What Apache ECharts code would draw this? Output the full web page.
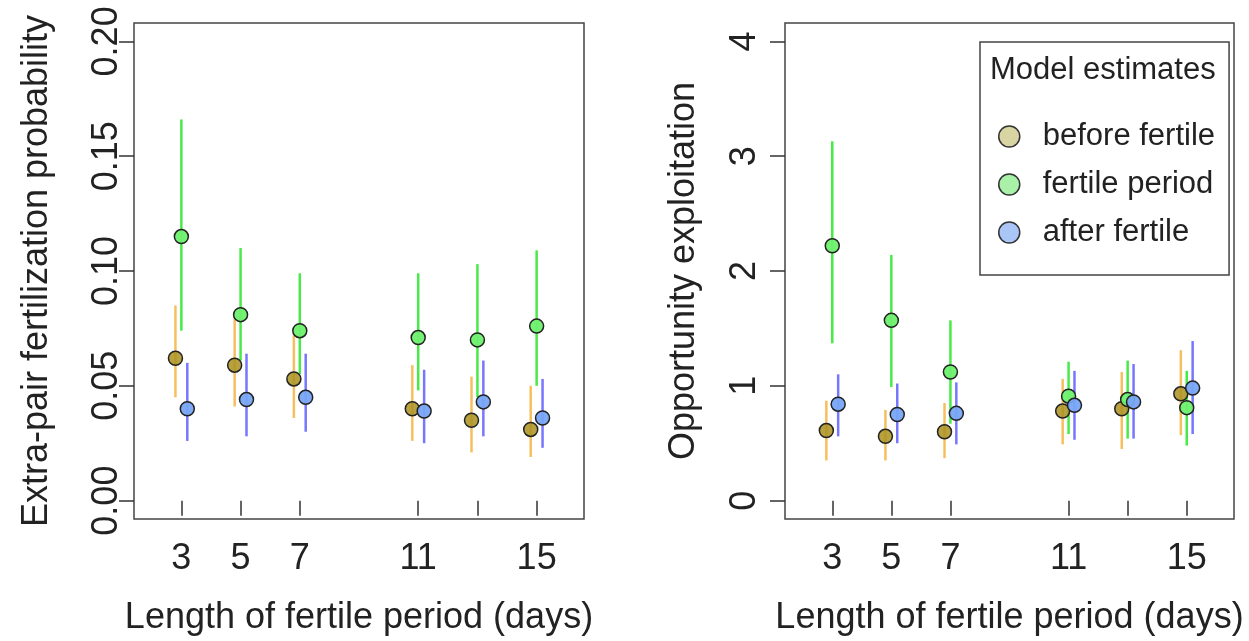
<!DOCTYPE html>
<html>
<head>
<meta charset="utf-8">
<script src="https://cdn.jsdelivr.net/npm/echarts@6.0.0/dist/echarts.min.js"></script>
<style>
  html, body { margin: 0; padding: 0; background: #fff; }
  #main { width: 1249px; height: 641px; }
</style>
</head>
<body>
<div id="main"></div>
<script>
// length of fertile period (days)
const days = [3, 5, 7, 11, 13, 15];
const dayTicks = [3, 5, 7, 11, 13, 15];
const dayLabels = [3, 5, 7, 11, 15];
const groupNames = ['before fertile', 'fertile period', 'after fertile'];

// extra-pair fertilization probability (left)
const eppBefore = [0.062, 0.059, 0.053, 0.040, 0.035, 0.031];
const eppBeforeLo = [0.045, 0.041, 0.036, 0.026, 0.021, 0.019];
const eppBeforeHi = [0.085, 0.079, 0.072, 0.059, 0.054, 0.050];
const eppFertile = [0.115, 0.081, 0.074, 0.071, 0.070, 0.076];
const eppFertileLo = [0.074, 0.061, 0.055, 0.048, 0.045, 0.050];
const eppFertileHi = [0.166, 0.110, 0.099, 0.099, 0.103, 0.109];
const eppAfter = [0.040, 0.044, 0.045, 0.039, 0.043, 0.036];
const eppAfterLo = [0.026, 0.028, 0.030, 0.025, 0.028, 0.023];
const eppAfterHi = [0.060, 0.064, 0.064, 0.057, 0.061, 0.053];
const eppTicks = [0, 0.05, 0.10, 0.15, 0.20];

// opportunity exploitation (right)
const oeBefore = [0.61, 0.56, 0.60, 0.78, 0.80, 0.93];
const oeBeforeLo = [0.35, 0.35, 0.37, 0.49, 0.45, 0.57];
const oeBeforeHi = [0.87, 0.79, 0.85, 1.06, 1.12, 1.31];
const oeFertile = [2.22, 1.57, 1.12, 0.91, 0.88, 0.81];
const oeFertileLo = [1.37, 0.99, 0.67, 0.58, 0.54, 0.48];
const oeFertileHi = [3.13, 2.14, 1.57, 1.21, 1.22, 1.13];
const oeAfter = [0.84, 0.75, 0.76, 0.83, 0.86, 0.98];
const oeAfterLo = [0.56, 0.50, 0.49, 0.53, 0.54, 0.58];
const oeAfterHi = [1.10, 1.02, 1.03, 1.13, 1.19, 1.39];
const oeTicks = [0, 1, 2, 3, 4];

const dodge = [-0.2, 0, 0.2];
const barColors = ['rgba(243,170,40,0.75)', 'rgba(40,230,40,0.85)', 'rgba(60,60,255,0.7)'];
const dotColors = ['rgba(170,145,30,0.85)', 'rgba(110,240,110,0.95)', 'rgba(120,165,245,0.95)'];
const legendColors = ['#d9d5a3', '#a9f1a9', '#a9c6f7'];
const font = 'Liberation Sans, Arial, sans-serif';

const chart = echarts.init(document.getElementById('main'));

function errorBars(gi, k, lo, hi) {
  return {
    type: 'custom',
    name: groupNames[k] + ' ci',
    xAxisIndex: gi,
    yAxisIndex: gi,
    z: 1,
    encode: { x: 0, y: [1, 2] },
    data: days.map((d, i) => [d + dodge[k], lo[i], hi[i]]),
    renderItem: function (params, api) {
      const p1 = api.coord([api.value(0), api.value(1)]);
      const p2 = api.coord([api.value(0), api.value(2)]);
      return {
        type: 'line',
        shape: { x1: p1[0], y1: p1[1], x2: p2[0], y2: p2[1] },
        style: { stroke: barColors[k], lineWidth: 2.5 }
      };
    }
  };
}

function dots(gi, k, est) {
  return {
    type: 'scatter',
    name: groupNames[k],
    xAxisIndex: gi,
    yAxisIndex: gi,
    z: 2,
    symbol: 'circle',
    symbolSize: 14,
    itemStyle: { color: dotColors[k], borderColor: '#222', borderWidth: 1.5, opacity: 1 },
    emphasis: { disabled: true },
    data: days.map((d, i) => [d + dodge[k], est[i]])
  };
}

function xAxis(gi) {
  return {
    type: 'value',
    gridIndex: gi,
    min: 1.4,
    max: 16.6,
    name: 'Length of fertile period (days)',
    nameLocation: 'middle',
    nameGap: 81,
    nameTextStyle: { fontSize: 36, color: '#222', fontFamily: font },
    axisLine: { show: false },
    axisTick: { show: true, customValues: dayTicks, length: 15, lineStyle: { color: '#333', width: 1.5 } },
    axisLabel: { customValues: dayLabels, fontSize: 36, color: '#222', fontFamily: font, margin: 22 },
    splitLine: { show: false }
  };
}

function yAxis(gi, name, min, max, ticks, fmt, labelMargin, nameGap) {
  return {
    type: 'value',
    gridIndex: gi,
    min: min,
    max: max,
    name: name,
    nameLocation: 'middle',
    nameGap: nameGap,
    nameTextStyle: { fontSize: 36, color: '#222', fontFamily: font },
    axisLine: { show: false },
    axisTick: { show: true, customValues: ticks, length: 15, lineStyle: { color: '#333', width: 1.5 } },
    axisLabel: { customValues: ticks, rotate: 90, formatter: fmt, fontSize: 36, color: '#222', fontFamily: font, margin: labelMargin },
    splitLine: { show: false }
  };
}

const option = {
  backgroundColor: '#fff',
  animation: false,
  title: {
    text: 'Model estimates',
    left: 990,
    top: 55,
    padding: 0,
    textStyle: { fontSize: 31, fontWeight: 'normal', color: '#222', fontFamily: font }
  },
  legend: {
    orient: 'vertical',
    left: 980,
    top: 42,
    padding: [79, 14, 27, 18],
    itemWidth: 57,
    itemHeight: 21,
    itemGap: 17,
    icon: 'circle',
    borderColor: '#444',
    borderWidth: 1.5,
    backgroundColor: '#fff',
    selectedMode: false,
    textStyle: { fontSize: 31, color: '#222', fontFamily: font },
    data: groupNames.map((n, k) => ({
      name: n,
      itemStyle: { color: legendColors[k], borderColor: '#333', borderWidth: 1.5 }
    }))
  },
  grid: [
    { left: 134, right: 665, top: 23, bottom: 119, show: true, borderColor: '#444', borderWidth: 1.5, backgroundColor: 'transparent' },
    { left: 785, right: 15, top: 23, bottom: 119, show: true, borderColor: '#444', borderWidth: 1.5, backgroundColor: 'transparent' }
  ],
  xAxis: [xAxis(0), xAxis(1)],
  yAxis: [
    yAxis(0, 'Extra-pair fertilization probability', -0.008, 0.208, eppTicks, v => v.toFixed(2), 9, 79),
    yAxis(1, 'Opportunity exploitation', -0.16, 4.16, oeTicks, v => String(Math.round(v)), 22, 83)
  ],
  series: [
    errorBars(0, 0, eppBeforeLo, eppBeforeHi),
    errorBars(0, 1, eppFertileLo, eppFertileHi),
    errorBars(0, 2, eppAfterLo, eppAfterHi),
    dots(0, 0, eppBefore),
    dots(0, 1, eppFertile),
    dots(0, 2, eppAfter),
    errorBars(1, 0, oeBeforeLo, oeBeforeHi),
    errorBars(1, 1, oeFertileLo, oeFertileHi),
    errorBars(1, 2, oeAfterLo, oeAfterHi),
    dots(1, 0, oeBefore),
    dots(1, 1, oeFertile),
    dots(1, 2, oeAfter)
  ]
};

chart.setOption(option);
</script>
</body>
</html>
